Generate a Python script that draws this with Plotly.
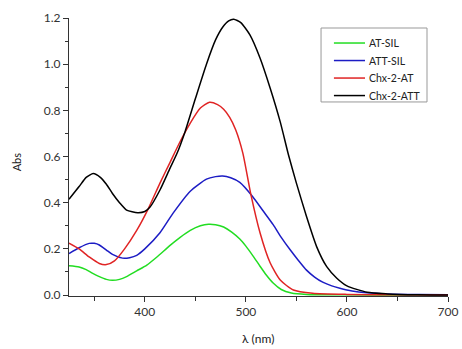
import plotly.graph_objects as go

# AT-SIL (green)
wl_at_sil = [325, 335, 342, 348, 355, 362, 368, 375, 382, 392, 402, 412, 425, 435, 445, 455, 463,
             470, 478, 486, 494, 500, 507, 514, 520, 527, 535, 545, 560, 600, 650, 700]
abs_at_sil = [0.127, 0.122, 0.110, 0.095, 0.080, 0.068, 0.064, 0.068, 0.080, 0.105, 0.130, 0.165,
              0.215, 0.250, 0.280, 0.300, 0.307, 0.305, 0.295, 0.273, 0.243, 0.212, 0.170, 0.125,
              0.088, 0.052, 0.024, 0.009, 0.003, 0.001, 0.0005, 0.0]

# ATT-SIL (blue)
wl_att_sil = [325, 335, 345, 350, 355, 362, 368, 378, 385, 392, 400, 415, 428, 445, 461, 470, 477,
              485, 494, 507, 517, 527, 535, 544, 552, 560, 568, 576, 585, 593, 605, 620, 640, 670, 700]
abs_att_sil = [0.180, 0.205, 0.224, 0.224, 0.217, 0.195, 0.176, 0.160, 0.162, 0.172, 0.200, 0.270,
               0.355, 0.450, 0.502, 0.513, 0.516, 0.508, 0.488, 0.425, 0.365, 0.305, 0.250, 0.195,
               0.150, 0.108, 0.078, 0.056, 0.040, 0.030, 0.018, 0.010, 0.005, 0.002, 0.001]

# Chx-2-AT (red)
wl_chx_at = [325, 335, 345, 355, 362, 370, 380, 392, 403, 415, 425, 435, 445, 455, 464, 472, 478,
             484, 490, 497, 505, 514, 524, 534, 547, 566, 600, 650, 700]
abs_chx_at = [0.225, 0.200, 0.165, 0.137, 0.132, 0.148, 0.200, 0.280, 0.370, 0.485, 0.575, 0.665,
              0.745, 0.810, 0.835, 0.825, 0.805, 0.770, 0.715, 0.615, 0.435, 0.270, 0.140, 0.065,
              0.022, 0.008, 0.003, 0.001, 0.0]

# Chx-2-ATT (black)
wl_chx_att = [325, 335, 342, 349, 356, 362, 368, 375, 382, 393, 400, 405, 415, 425, 432, 440, 450,
              461, 470, 477, 483, 488, 495, 504, 514, 524, 534, 542, 550, 560, 570, 580, 590,
              600, 620, 640, 670, 700]
abs_chx_att = [0.415, 0.470, 0.510, 0.526, 0.510, 0.480, 0.440, 0.400, 0.368, 0.357, 0.362, 0.380,
               0.455, 0.550, 0.615, 0.710, 0.850, 1.000, 1.105, 1.160, 1.188, 1.195, 1.180,
               1.127, 1.027, 0.897, 0.750, 0.610, 0.485, 0.340, 0.210, 0.123, 0.073, 0.040, 0.012,
               0.005, 0.001, 0.0]

series_names = ["AT-SIL", "ATT-SIL", "Chx-2-AT", "Chx-2-ATT"]
series_colors = ["#22dd22", "#1c1cc4", "#e02424", "#000000"]
series_x = [wl_at_sil, wl_att_sil, wl_chx_at, wl_chx_att]
series_y = [abs_at_sil, abs_att_sil, abs_chx_at, abs_chx_att]

x_tick_vals = [400, 500, 600, 700]
y_tick_vals = [0.0, 0.2, 0.4, 0.6, 0.8, 1.0, 1.2]
x_title = "λ (nm)"
y_title = "Abs"

fig = go.Figure()
for name, color, xs, ys in zip(series_names, series_colors, series_x, series_y):
    fig.add_trace(go.Scatter(x=xs, y=ys, mode="lines", name=name, showlegend=False,
                             line=dict(color=color, width=1.5, shape="spline", smoothing=0.6)))

# Legend drawn as a framed box in paper coordinates (compact row spacing like the reference)
shapes = [dict(type="rect", xref="paper", yref="paper", x0=0.665, x1=0.9446, y0=0.698, y1=0.964,
               line=dict(color="#999999", width=1), fillcolor="white", layer="above")]
annotations = []
row_y0, row_step = 0.910, 0.063
for i, (name, color) in enumerate(zip(series_names, series_colors)):
    yy = row_y0 - i * row_step
    shapes.append(dict(type="line", xref="paper", yref="paper", x0=0.699, x1=0.781, y0=yy, y1=yy,
                       line=dict(color=color, width=1.5), layer="above"))
    annotations.append(dict(text=name, xref="paper", yref="paper", x=0.787, y=yy,
                            xanchor="left", yanchor="middle", showarrow=False,
                            font=dict(size=10.5, color="#222222")))

annotations += [
    dict(text=x_title, xref="paper", yref="paper", x=0.501, y=-0.152, xanchor="center",
         yanchor="middle", showarrow=False, font=dict(size=12, color="#222222")),
    dict(text=y_title, xref="paper", yref="paper", x=-0.139, y=0.482, xanchor="center",
         yanchor="middle", textangle=-90, showarrow=False, font=dict(size=11, color="#222222")),
]

font_family = "Lato, Open Sans, sans-serif"
axis_color = "#333333"
fig.update_layout(
    width=462, height=349,
    margin=dict(l=69, r=14, t=18, b=53, autoexpand=False),
    plot_bgcolor="white", paper_bgcolor="white",
    font=dict(family=font_family, size=12, color="#333333"),
    showlegend=False,
    shapes=shapes,
    annotations=annotations,
    xaxis=dict(range=[325, 700], tickvals=x_tick_vals, ticks="outside", ticklen=5,
               tickcolor=axis_color, showline=True, linecolor=axis_color, linewidth=1,
               showgrid=False, zeroline=False, mirror=False, automargin=False,
               minor=dict(dtick=50, tick0=350, ticks="outside", ticklen=4, tickcolor=axis_color)),
    yaxis=dict(range=[-0.004, 1.2], tickvals=y_tick_vals, tickformat=".1f", ticks="outside",
               ticklen=5, tickcolor=axis_color, showline=True, linecolor=axis_color, linewidth=1,
               showgrid=False, zeroline=False, mirror=False, automargin=False,
               minor=dict(dtick=0.1, tick0=0, ticks="outside", ticklen=3, tickcolor=axis_color)),
)

fig.write_html("out.html", config={"displayModeBar": False},
               post_script="document.body.style.margin='0px';document.body.style.padding='0px';")
